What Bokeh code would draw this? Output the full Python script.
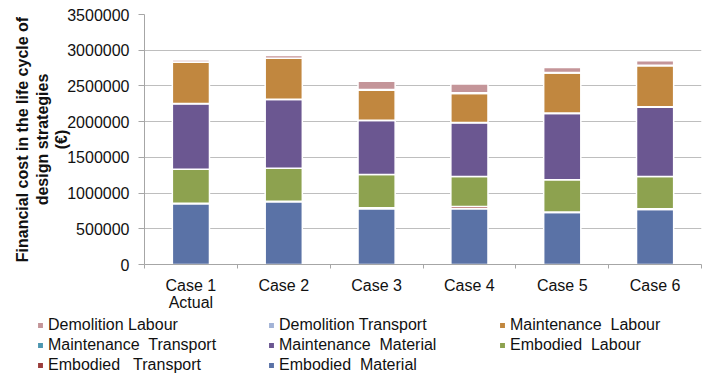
from bokeh.embed import file_html
from bokeh.layouts import column
from bokeh.models import (ColumnDataSource, FixedTicker, Legend, LegendItem,
                          NumeralTickFormatter, Range1d)
from bokeh.plotting import figure
from bokeh.resources import INLINE

# --- data -------------------------------------------------------------------
categories = ["Case 1\nActual", "Case 2", "Case 3", "Case 4", "Case 5", "Case 6"]

# stacked cost components (EUR), bottom to top
embodied_material = [850000, 878000, 781000, 781000, 729000, 771000]
embodied_transport = [8000, 8000, 15000, 32000, 6000, 8000]
embodied_labour = [476000, 462000, 463000, 418000, 450000, 452000]
maintenance_material = [915000, 962000, 758000, 753000, 930000, 972000]
maintenance_transport = [5000, 5000, 4000, 4000, 5000, 5000]
maintenance_labour = [577000, 571000, 419000, 406000, 562000, 576000]
demolition_transport = [3000, 3000, 10000, 10000, 5000, 4000]
demolition_labour = [28000, 37000, 115000, 124000, 70000, 65000]

y_ticks = [0, 500000, 1000000, 1500000, 2000000, 2500000, 3000000, 3500000]

series_names = ["Embodied Material", "Embodied Transport", "Embodied Labour",
                "Maintenance Material", "Maintenance Transport", "Maintenance Labour",
                "Demolition Transport", "Demolition Labour"]
series_values = [embodied_material, embodied_transport, embodied_labour,
                 maintenance_material, maintenance_transport, maintenance_labour,
                 demolition_transport, demolition_labour]
series_colors = ["#5A72A6", "#9B3D3B", "#8DA24F", "#6B5791",
                 "#4C97B1", "#C1873F", "#A2B3D6", "#C49599"]

# legend reads row by row, top of the stack first
legend_labels = ["Demolition Labour", "Demolition Transport", "Maintenance  Labour",
                 "Maintenance  Transport", "Maintenance  Material", "Embodied  Labour",
                 "Embodied   Transport", "Embodied  Material"]
legend_series = ["Demolition Labour", "Demolition Transport", "Maintenance Labour",
                 "Maintenance Transport", "Maintenance Material", "Embodied Labour",
                 "Embodied Transport", "Embodied Material"]

y_title = "Financial cost in the life cycle of\ndesign strategies\n(€)"

FONT = "Liberation Sans"
TEXT = "#111111"
GRID = "#BEBEBE"
AXIS = "#A6A6A6"

# category slots on a numeric axis: centres carry the labels, edges the tick marks
n = len(categories)
centers = [i + 0.5 for i in range(n)]
edges = [float(i) for i in range(n + 1)]

data = {"x": centers}
keys = []
for i, vals in enumerate(series_values):
    key = f"s{i}"
    keys.append(key)
    data[key] = vals
source = ColumnDataSource(data)

# --- chart ------------------------------------------------------------------
p = figure(width=709, height=314, output_backend="svg", toolbar_location=None,
           x_range=Range1d(0, n), y_range=Range1d(0, 3500000),
           min_border_left=144, min_border_right=8, min_border_top=14,
           min_border_bottom=49)
p.frame_align = False
p.outline_line_color = None
p.background_fill_color = "white"
p.border_fill_color = "white"

p.vbar_stack(keys, x="x", width=0.4, source=source,
             color=series_colors, line_color="white", line_width=1.5)

yax = p.yaxis[0]
yax.ticker = FixedTicker(ticks=y_ticks)
yax.formatter = NumeralTickFormatter(format="0")
yax.major_label_text_font = FONT
yax.major_label_text_font_size = "16px"
yax.major_label_text_color = TEXT
yax.major_label_standoff = 9
yax.major_tick_in = 0
yax.major_tick_out = 6
yax.minor_tick_line_color = None
yax.major_tick_line_color = AXIS
yax.axis_line_color = AXIS
yax.axis_label = y_title
yax.axis_label_text_font = FONT
yax.axis_label_text_font_size = "16px"
yax.axis_label_text_font_style = "bold"
yax.axis_label_text_color = TEXT
yax.axis_label_text_line_height = 1.15
yax.axis_label_standoff = -6

xax = p.xaxis[0]
xax.ticker = FixedTicker(ticks=centers, minor_ticks=edges)
xax.major_label_overrides = {c: lab for c, lab in zip(centers, categories)}
xax.major_label_text_font = FONT
xax.major_label_text_font_size = "16px"
xax.major_label_text_color = TEXT
xax.major_label_text_line_height = 1.05
xax.major_label_standoff = 8
xax.major_tick_in = 0
xax.major_tick_out = 0
xax.minor_tick_in = 0
xax.minor_tick_out = 4
xax.minor_tick_line_color = AXIS
xax.axis_line_color = AXIS

p.xgrid.grid_line_color = None
p.ygrid.ticker = FixedTicker(ticks=y_ticks)
p.ygrid.grid_line_color = GRID
p.ygrid.grid_line_width = 1

# --- legend strip below the chart, three columns ----------------------------
lg = figure(width=709, height=60, output_backend="svg", toolbar_location=None,
            x_range=Range1d(0, 1), y_range=Range1d(0, 1),
            x_axis_type=None, y_axis_type=None,
            min_border_left=0, min_border_right=0, min_border_top=0,
            min_border_bottom=0)
lg.frame_align = False
lg.outline_line_color = None
lg.grid.visible = False

# zero-height proxy bars that only supply the legend swatches
proxy = ColumnDataSource({"x": [0.0], "y": [0.0]})
swatch = {}
for name, color in zip(series_names, series_colors):
    swatch[name] = lg.vbar(x="x", top="y", bottom="y", width=0.0, source=proxy,
                           color=color, line_color="white", line_width=1.5)

items = [LegendItem(label=lab, renderers=[swatch[name]])
         for lab, name in zip(legend_labels, legend_series)]
legend = Legend(items=items, location=(36, 0), orientation="horizontal", ncols=3,
                glyph_width=8, glyph_height=8, label_standoff=4, label_width=218,
                label_height=19, spacing=1, padding=0, margin=0,
                label_text_font=FONT, label_text_font_size="16px",
                label_text_color=TEXT, border_line_color=None,
                background_fill_alpha=0)
lg.add_layout(legend, "center")

page = column(p, lg, spacing=0)
open("out.html", "w").write(file_html(page, INLINE))
